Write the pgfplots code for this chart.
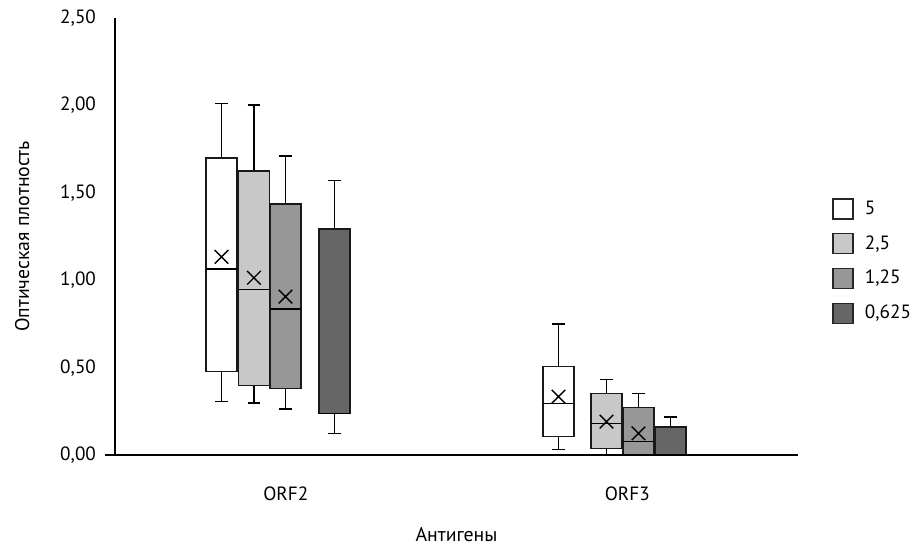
\documentclass[border=0pt]{standalone}
\usepackage{fontspec}
\setmainfont{PT Sans}
\usepackage{pgfplots}
\usepgfplotslibrary{statistics}
\pgfplotsset{compat=1.18}

\definecolor{cA}{HTML}{FFFFFF}
\definecolor{cB}{HTML}{C8C8C8}
\definecolor{cC}{HTML}{979797}
\definecolor{cD}{HTML}{666666}

\pgfplotsset{
  sq legend/.style={legend image code/.code={
    \draw[#1, draw=black!85, line width=0.7pt] (0pt,-5pt) rectangle (10pt,5pt);}},
  bx/.style={boxplot/draw direction=y, boxplot/box extend=0.0908, boxplot/whisker extend=0.038},
}

\begin{document}
\begin{tikzpicture}
\useasboundingbox (-57.5pt,-46pt) rectangle (400.5pt,227.5pt);
\begin{axis}[
    at={(0,0)}, anchor=south west,
    scale only axis, width=341.5pt, height=218.5pt,
    xmin=0.5, xmax=2.5,
    ymin=0, ymax=2.5,
    axis x line=bottom, axis y line=left,
    axis line style={-, line width=0.75pt, black},
    enlargelimits=false,
    clip=false,
    xtick={1,2},
    xticklabels={ORF2,ORF3},
    ytick={0,0.5,1,1.5,2,2.5},
    major tick length=0pt,
    font=\fontsize{9.6}{11.5}\selectfont,
    yticklabel style={/pgf/number format/.cd, fixed, fixed zerofill, precision=2,
        use comma, assume math mode=true, /tikz/.cd, xshift=-6pt},
    xticklabel style={yshift=-12.5pt},
    xlabel={Антигены},
    ylabel={Оптическая плотность},
    label style={font=\fontsize{9.9}{12}\selectfont},
    xlabel style={at={(axis description cs:0.5,-0.183)}, anchor=center},
    ylabel style={at={(axis description cs:-0.136,0.5)}, anchor=center},
    legend style={at={(axis description cs:1.041,0.601)}, anchor=north west,
        draw=none, fill=none, row sep=5.1pt, font=\fontsize{9.6}{11.5}\selectfont,
        nodes={inner sep=2pt},
        /tikz/every odd column/.append style={column sep=3.5pt}},
    legend cell align=left,
    boxplot/every box/.style={draw=black!90, line width=0.75pt},
    boxplot/every whisker/.style={black, line width=0.8pt},
    boxplot/every median/.style={black, line width=0.75pt},
]
% legend entries
\addlegendimage{sq legend, fill=cA}
\addlegendentry{5}
\addlegendimage{sq legend, fill=cB}
\addlegendentry{2,5}
\addlegendimage{sq legend, fill=cC}
\addlegendentry{1,25}
\addlegendimage{sq legend, fill=cD}
\addlegendentry{0,625}

% ORF2
\addplot[forget plot, fill=cA, bx, boxplot prepared={draw position=0.8119,
  lower whisker=0.305, lower quartile=0.477, median=1.064, upper quartile=1.70, upper whisker=2.012}]
  coordinates {};
\addplot[forget plot, fill=cB, bx, boxplot prepared={draw position=0.9070,
  lower whisker=0.299, lower quartile=0.397, median=0.948, upper quartile=1.625, upper whisker=2.002}]
  coordinates {};
\addplot[forget plot, fill=cC, bx, boxplot prepared={draw position=0.9993,
  lower whisker=0.263, lower quartile=0.381, median=0.835, upper quartile=1.436, upper whisker=1.712}]
  coordinates {};
\addplot[forget plot, fill=cD, bx, boxplot prepared={draw position=1.1428,
  lower whisker=0.124, lower quartile=0.238, median=0.238, upper quartile=1.293, upper whisker=1.570}]
  coordinates {};

% ORF3
\addplot[forget plot, fill=cA, bx, boxplot prepared={draw position=1.7987,
  lower whisker=0.032, lower quartile=0.105, median=0.296, upper quartile=0.505, upper whisker=0.749}]
  coordinates {};
\addplot[forget plot, fill=cB, bx, boxplot prepared={draw position=1.9392,
  lower whisker=0.0, lower quartile=0.038, median=0.181, upper quartile=0.351, upper whisker=0.431}]
  coordinates {};
\addplot[forget plot, fill=cC, bx, boxplot prepared={draw position=2.0329,
  lower whisker=0.0, lower quartile=0.0, median=0.078, upper quartile=0.271, upper whisker=0.351}]
  coordinates {};
\addplot[forget plot, fill=cD, bx, boxplot prepared={draw position=2.1266,
  lower whisker=0.0, lower quartile=0.0, median=0.0, upper quartile=0.160, upper whisker=0.216}]
  coordinates {};

% means
\addplot[forget plot, only marks, mark=x, mark size=4.8pt, black, mark options={line width=0.7pt}]
  coordinates {(0.8119,1.134) (0.9070,1.014) (0.9993,0.906) (1.7987,0.334) (1.9392,0.191) (2.0329,0.124)};

% axis line stub left of the y axis
\draw[black, line width=0.75pt] (axis cs:0.4707,0) -- (axis cs:2.5,0);
\end{axis}
\end{tikzpicture}
\end{document}
